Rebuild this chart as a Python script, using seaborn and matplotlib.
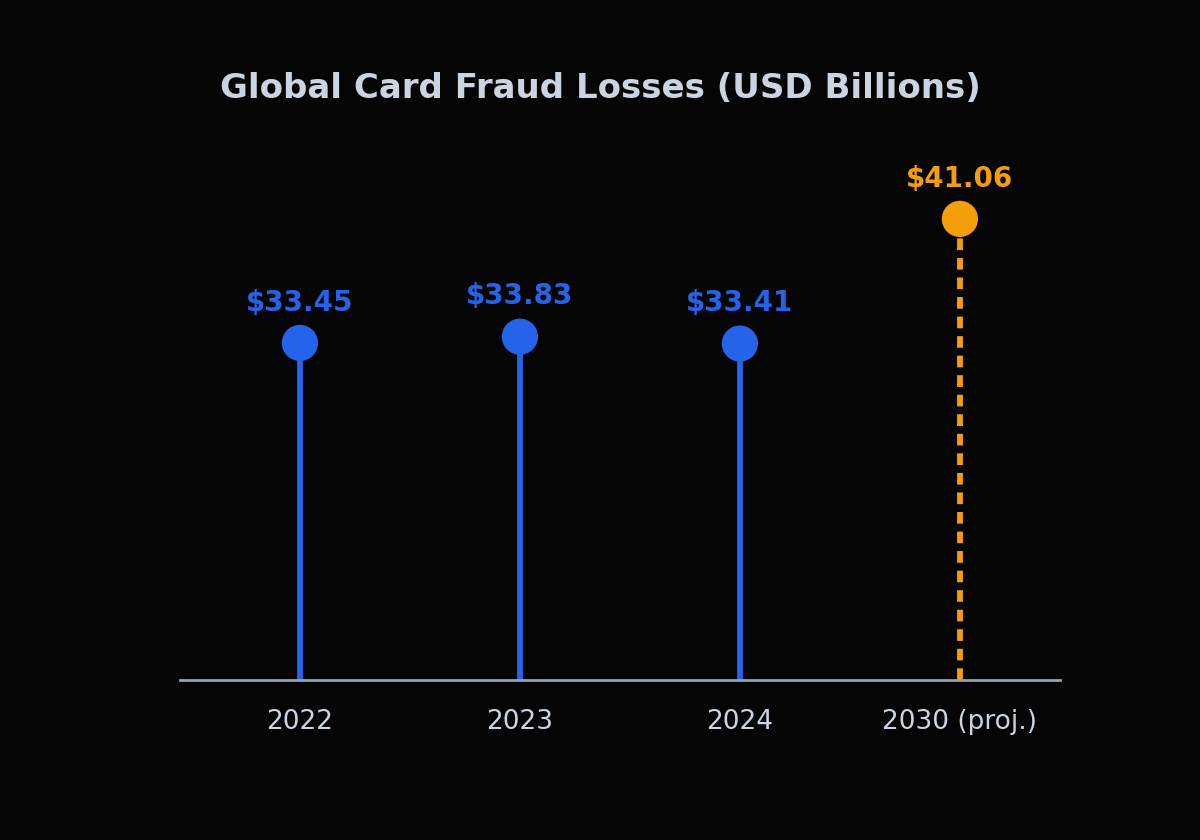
import numpy as np
import pandas as pd
import matplotlib
matplotlib.use("Agg")
import matplotlib.pyplot as plt
import seaborn as sns

# chart data
years = ["2022", "2023", "2024", "2030 (proj.)"]
losses = [33.45, 33.83, 33.41, 41.06]
kind = ["actual", "actual", "actual", "projected"]

BG = "#050505"
BLUE = "#2563eb"
ORANGE = "#f59e0b"
TEXT = "#cbd5e1"
AXIS = "#94a3b8"
palette = {"actual": BLUE, "projected": ORANGE}

df = pd.DataFrame({"year": years, "loss": losses, "kind": kind})
df["x"] = np.arange(len(df))

sns.set_theme(style="dark")
plt.rcParams["font.family"] = ["DejaVu Sans"]

fig = plt.figure(figsize=(12, 8.4), dpi=100, facecolor=BG)
ax = fig.add_axes([180 / 1200, 160 / 840, 880 / 1200, 540 / 840])
ax.set_facecolor(BG)

y_lo, y_hi = 12.77, 45.9
ax.set_ylim(y_lo, y_hi)
ax.set_xlim(-0.545, 3.455)

# stems
for _, row in df.iterrows():
    ls = (0, (2.0, 1.35)) if row["kind"] == "projected" else "-"
    ax.vlines(row["x"], y_lo, row["loss"], color=palette[row["kind"]],
              linewidth=4.2, linestyles=ls, zorder=2)

sns.scatterplot(data=df, x="x", y="loss", hue="kind", palette=palette,
                s=680, edgecolor="none", legend=False, zorder=3, ax=ax)

for _, row in df.iterrows():
    ax.annotate(f"${row['loss']:.2f}", (row["x"], row["loss"]),
                xytext=(0, 19), textcoords="offset points",
                ha="center", va="bottom", fontsize=20, fontweight="bold",
                color=palette[row["kind"]])

ax.set_xticks(df["x"])
ax.set_xticklabels(years, fontsize=19, color=TEXT)
ax.tick_params(axis="x", length=0, pad=21)
ax.set_yticks([])
ax.set_xlabel("")
ax.set_ylabel("")
ax.grid(False)
for side in ["top", "right", "left"]:
    ax.spines[side].set_visible(False)
ax.spines["bottom"].set_color(AXIS)
ax.spines["bottom"].set_linewidth(2)

fig.text(0.5, 1 - 89 / 840, "Global Card Fraud Losses (USD Billions)",
         ha="center", va="center", fontsize=24.5, fontweight="bold", color=TEXT)

fig.savefig("out.png", dpi=100, facecolor=BG)
